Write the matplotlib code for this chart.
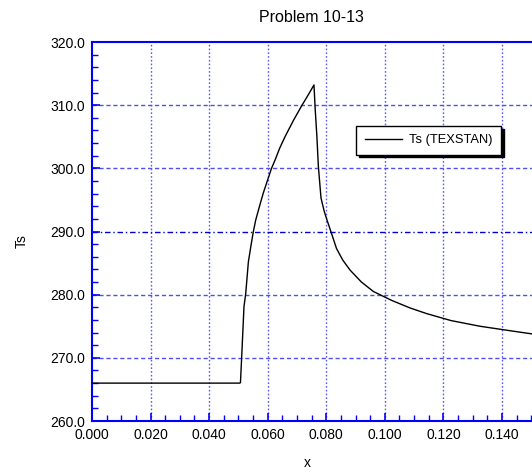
import matplotlib.pyplot as plt
from matplotlib.ticker import FixedLocator, MultipleLocator, FormatStrFormatter

plt.rcParams['font.family'] = ['Liberation Sans', 'DejaVu Sans']

# Surface temperature along the plate (TEXSTAN output)
x = [0.000, 0.0505, 0.0507, 0.0512, 0.0519, 0.0525, 0.0534, 0.0543, 0.0551,
     0.0559, 0.0572, 0.0585, 0.0600, 0.0613, 0.0625, 0.0641, 0.0659, 0.0688,
     0.0716, 0.0738, 0.0758, 0.0762, 0.0768, 0.0773, 0.0782, 0.0793, 0.0804,
     0.0815, 0.0835, 0.0856, 0.0881, 0.0920, 0.0961, 0.1023, 0.1086, 0.1143,
     0.1226, 0.1325, 0.1427, 0.1501, 0.1600]
ts = [266.0, 266.0, 266.1, 271.0, 278.1, 280.2, 285.2, 287.8, 290.0,
      291.8, 294.0, 296.1, 298.2, 300.0, 301.3, 303.2, 305.0, 307.6,
      309.9, 311.6, 313.2, 309.5, 305.0, 300.3, 295.3, 293.2, 291.6,
      290.1, 287.3, 285.5, 283.9, 282.0, 280.5, 279.1, 277.9, 277.0,
      275.9, 275.0, 274.3, 273.8, 273.2]

x_major = [0.00, 0.02, 0.04, 0.06, 0.08, 0.10, 0.12, 0.14]
y_major = [260, 270, 280, 290, 300, 310, 320]

fig = plt.figure(figsize=(5.32, 4.73), dpi=100)
ax = fig.add_axes([0.1729, 0.1099, 0.8808, 0.8013])

ax.set_xlim(0.0, 0.16)
ax.set_ylim(260, 320)

# grid: dotted verticals, dashed horizontals (290 drawn darker)
for xv in x_major[1:]:
    ax.axvline(xv, color='#5a5aff', lw=1.0, ls=(0, (1.2, 1.5)), zorder=1)
for yv in y_major[1:-1]:
    if yv == 290:
        ax.axhline(yv, color='#0000cc', lw=1.0, ls=(0, (4, 2, 1, 2)), zorder=1)
    else:
        ax.axhline(yv, color='#5050f0', lw=1.0, ls=(0, (3, 2)), zorder=1)

ax.plot(x, ts, color='black', lw=1.0, label='Ts (TEXSTAN)', zorder=3)

ax.xaxis.set_major_locator(FixedLocator(x_major))
ax.xaxis.set_minor_locator(MultipleLocator(0.005))
ax.yaxis.set_major_locator(FixedLocator(y_major))
ax.yaxis.set_minor_locator(MultipleLocator(2))
ax.xaxis.set_major_formatter(FormatStrFormatter('%.3f'))
ax.yaxis.set_major_formatter(FormatStrFormatter('%.1f'))

for side in ['left', 'bottom', 'top', 'right']:
    ax.spines[side].set_color('#0000ff')
    ax.spines[side].set_linewidth(1.5)

ax.tick_params(which='both', direction='in', color='#0000ff', labelsize=10,
               top=False, right=False)
ax.tick_params(which='major', length=6, width=1.2, pad=5)
ax.tick_params(which='minor', length=4, width=1.0)

fig.text(0.585, 0.963, 'Problem 10-13', ha='center', va='center', fontsize=11.5)
fig.text(0.040, 0.49, 'Ts', ha='center', va='center', rotation=90, fontsize=10)
fig.text(0.577, 0.022, 'x', ha='center', va='center', fontsize=10)

leg = ax.legend(loc='upper left', bbox_to_anchor=(0.670, 0.734),
                bbox_transform=fig.transFigure, borderaxespad=0,
                fancybox=False, edgecolor='black', framealpha=1, fontsize=9.3,
                handlelength=2.9, handletextpad=0.55, borderpad=0.65,
                shadow={'color': 'black', 'alpha': 1, 'ox': 2, 'oy': -2})
leg.get_frame().set_linewidth(1.0)

fig.savefig('out.png', dpi=100)
